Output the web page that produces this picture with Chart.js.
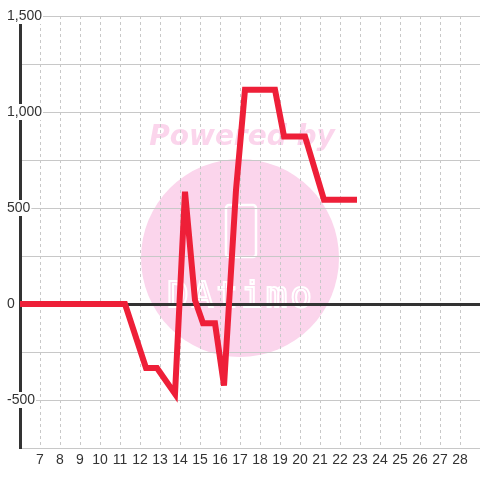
<!DOCTYPE html>
<html>
<head>
<meta charset="utf-8">
<script src="https://cdn.jsdelivr.net/npm/chart.js@4.4.0/dist/chart.umd.min.js"></script>
<style>
  html, body { margin: 0; padding: 0; background: #fff; }
  canvas { display: block; }
</style>
</head>
<body>
<canvas id="myChart" width="480" height="480"></canvas>
<script>
// day of month (x) and value (y)
var days   = [5, 11.25, 12.3, 12.85, 13.75, 14.25, 14.75, 15.15, 15.75, 16.2, 16.8, 17.25, 18.75, 19.2, 20.25, 21.2, 22.85];
var values = [0, 0, -333, -333, -468, 585, 20, -100, -100, -425, 594, 1116, 1116, 873, 873, 543, 543];
var xMin = 6, xMax = 29;
var yMin = -750, yMax = 1500;

var points = days.map(function (d, i) { return { x: d, y: values[i] }; });

// pink "Powered by" watermark behind the grid
var watermark = {
  id: 'watermark',
  beforeDraw: function (chart) {
    var c = chart.ctx;
    c.save();
    c.fillStyle = '#fff';
    c.fillRect(0, 0, chart.width, chart.height);
    c.fillStyle = '#fbd5ec';
    c.beginPath();
    c.arc(240, 258, 99, 0, Math.PI * 2);
    c.fill();
    c.font = 'bold italic 28px "DejaVu Sans"';
    c.textAlign = 'center';
    c.textBaseline = 'alphabetic';
    c.fillText('Powered by', 242, 145);
    // logo, white outline
    c.strokeStyle = '#fff';
    c.lineWidth = 2.5;
    c.beginPath();
    c.roundRect(226, 205, 30, 52, 3);
    c.stroke();
    c.font = '36px "DejaVu Sans Mono"';
    c.letterSpacing = '3px';
    c.lineWidth = 2;
    c.strokeText('DAtimo', 241, 307);
    c.restore();
  },
  beforeDatasetsDraw: function (chart) {
    chart.ctx.miterLimit = 4;
  }
};

var config = {
  type: 'line',
  data: {
    datasets: [{
      data: points,
      borderColor: '#ee1f38',
      borderWidth: 6,
      borderJoinStyle: 'miter',
      pointRadius: 0,
      tension: 0,
      fill: false
    }]
  },
  options: {
    responsive: false,
    animation: false,
    layout: { padding: { top: 16, left: 0, right: 0, bottom: 0 } },
    plugins: {
      legend: { display: false },
      tooltip: { enabled: false }
    },
    scales: {
      x: {
        type: 'linear',
        min: xMin,
        max: xMax,
        afterFit: function (s) { s.height = 32; s.paddingLeft = 0; s.paddingRight = 0; },
        grid: { color: '#c8c8c8', lineWidth: 1, drawTicks: false },
        border: { display: false, dash: [3, 3] },
        ticks: {
          stepSize: 1,
          autoSkip: false,
          maxRotation: 0,
          padding: 4,
          color: '#333',
          font: { family: 'Liberation Sans', size: 14 },
          callback: function (v) { return (v > xMin && v < xMax) ? String(v) : ''; }
        }
      },
      y: {
        min: yMin,
        max: yMax,
        afterFit: function (s) { s.width = 20; s.paddingTop = 0; s.paddingBottom = 0; },
        grid: {
          drawTicks: false,
          color: function (ctx) { return ctx.tick && ctx.tick.value === 0 ? '#333' : '#c8c8c8'; },
          lineWidth: function (ctx) { return ctx.tick && ctx.tick.value === 0 ? 3 : 1; }
        },
        border: { display: true, color: '#333', width: 3 },
        ticks: {
          stepSize: 250,
          mirror: true,
          padding: -13,
          color: '#333',
          font: { family: 'Liberation Sans', size: 14, lineHeight: 1 },
          showLabelBackdrop: true,
          backdropColor: '#fff',
          backdropPadding: { top: 1, bottom: 1, left: 1, right: 1 },
          callback: function (v) { return v % 500 === 0 ? v.toLocaleString('en-US') : ''; }
        }
      }
    }
  },
  plugins: [watermark]
};

var myChart = new Chart(document.getElementById('myChart'), config);
</script>
</body>
</html>
